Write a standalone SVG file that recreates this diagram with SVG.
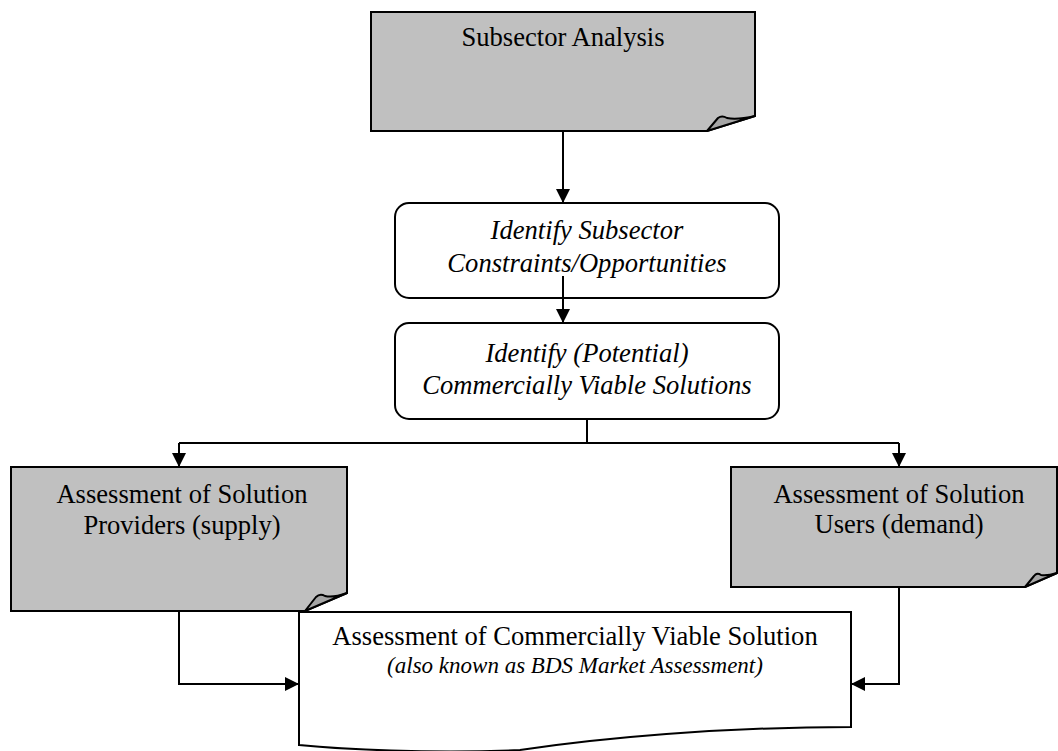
<svg xmlns="http://www.w3.org/2000/svg" width="1058" height="751" viewBox="0 0 1058 751">
<style>
.box{fill:#c0c0c0;stroke:#000;stroke-width:2;stroke-linejoin:miter}
.fold{fill:#a6a6a6;stroke:#000;stroke-width:2;stroke-linejoin:round}
.wbox{fill:#fff;stroke:#000;stroke-width:2}
text{font-size:26.6px;fill:#000;text-anchor:middle}
.i{font-style:italic}
.s{font-size:23px}
.c{fill:none;stroke:#000;stroke-width:2}
</style>
<defs>
<marker id="ah" markerUnits="userSpaceOnUse" markerWidth="15" markerHeight="14" refX="14" refY="7" orient="auto">
<path d="M0,0 L14,7 L0,14 Z" fill="#000"/>
</marker>
</defs>
<rect width="1058" height="751" fill="#fff"/>
<g id="connectors">
<path class="c" d="M563,131 V203" marker-end="url(#ah)"/>
<path class="c" d="M563,276 V323" marker-end="url(#ah)"/>
<path class="c" d="M587,419 V443"/>
<path class="c" d="M179,443 H899"/>
<path class="c" d="M179,443 V467" marker-end="url(#ah)"/>
<path class="c" d="M899,443 V467" marker-end="url(#ah)"/>
<path class="c" d="M179,611 V684 H299" marker-end="url(#ah)"/>
<path class="c" d="M899,587 V684 H851" marker-end="url(#ah)"/>
</g>
<g font-family="Liberation Serif, DejaVu Serif, serif">
<g id="subsector">
<path class="box" d="M371,12 H755 V116 L707,131 H371 Z"/>
<path class="fold" d="M707,131 L718,118 Q722,115 727,118 Q737,120 755,116 Z"/>
<text x="563" y="46">Subsector Analysis</text>
</g>
<g id="constraints">
<rect class="wbox" x="395" y="203" width="384" height="95" rx="14"/>
<text class="i" x="587" y="239">Identify Subsector</text>
<text class="i" x="587" y="272">Constraints/Opportunities</text>
</g>
<path class="c" d="M563,276 V310"/>
<g id="solutions">
<rect class="wbox" x="395" y="323" width="384" height="96" rx="14"/>
<text class="i" x="587" y="362">Identify (Potential)</text>
<text class="i" x="587" y="394">Commercially Viable Solutions</text>
</g>
<g id="providers">
<path class="box" d="M11,467 H347 V593 L305,611 H11 Z"/>
<path class="fold" d="M305,611 L316,597 Q320,593 325,596 Q333,598 347,593 Z"/>
<text x="182" y="503">Assessment of Solution</text>
<text x="182" y="534">Providers (supply)</text>
</g>
<g id="users">
<path class="box" d="M731,467 H1057 V573 L1025,587 H731 Z"/>
<path class="fold" d="M1025,587 L1034,576 Q1037,572 1041,575 Q1047,576 1057,573 Z"/>
<text x="899" y="503">Assessment of Solution</text>
<text x="899" y="533">Users (demand)</text>
</g>
<g id="market">
<path class="wbox" d="M299,612 H851 V727 C720,727 600,738 520,750 C430,754 340,749 299,745 Z"/>
<text x="575" y="645">Assessment of Commercially Viable Solution</text>
<text class="i s" x="575" y="673">(also known as BDS Market Assessment)</text>
</g>
</g>
</svg>
